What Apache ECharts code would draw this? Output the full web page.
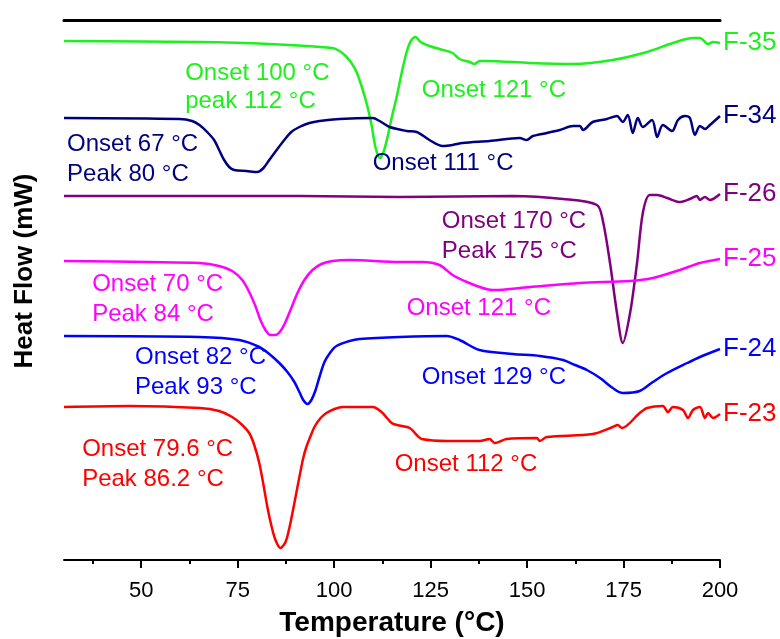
<!DOCTYPE html>
<html>
<head>
<meta charset="utf-8">
<title>DSC thermograms</title>
<script src="https://cdn.jsdelivr.net/npm/echarts@6/dist/echarts.min.js"></script>
<style>
  html, body { margin: 0; padding: 0; background: #ffffff; }
  #chart { width: 780px; height: 639px; }
</style>
</head>
<body>
<div id="chart"></div>
<script>
// Temperature axis ticks (°C)
const majorTicks = [50, 75, 100, 125, 150, 175, 200];
const minorTicks = [37.5, 62.5, 87.5, 112.5, 137.5, 162.5, 187.5];

// Heat flow traces, stacked with vertical offsets (arbitrary units): [T °C, heat flow]
const f35 = [
  [30, 51.9], [65.1, 51.8], [83.2, 51.6], [99.6, 51.2], [101.4, 50.9], [103.0, 50.4],
  [104.5, 49.7], [105.8, 48.8], [107.1, 47.4], [108.4, 45.7], [109.7, 43.5], [110.7, 41.3],
  [111.8, 40.2], [112.8, 40.8], [113.9, 42.4], [114.9, 44.2], [116.2, 46.3], [117.5, 48.7],
  [118.8, 50.8], [119.9, 51.9], [121.1, 52.3], [122.4, 51.8], [124.7, 51.4], [127.3, 51.1],
  [130.7, 50.7], [132.5, 50.1], [135.1, 49.8], [136.4, 49.6], [137.7, 49.9], [139.5, 49.9],
  [150.7, 49.7], [161.9, 49.6], [172.2, 50.0], [181.1, 50.8], [187.8, 51.7], [193.0, 52.2],
  [194.8, 52.2], [195.6, 52.0], [196.9, 51.6], [198.2, 51.8], [200, 51.7]
];
const f34 = [
  [30, 44.2], [59.9, 44.1], [63.2, 43.9], [65.1, 43.5], [67.1, 42.8], [68.9, 42.0],
  [70.2, 41.0], [71.5, 40.0], [72.8, 39.3], [74.1, 39.0], [77.3, 38.9], [80.1, 38.8],
  [81.7, 39.2], [83.2, 40.0], [85.3, 41.1], [87.1, 42.0], [88.9, 42.8], [91.0, 43.3],
  [93.6, 43.7], [96.2, 43.9], [101.4, 44.1], [110.0, 44.2], [111.8, 43.9], [114.4, 43.3],
  [118.8, 42.9], [121.4, 42.8], [124.7, 42.0], [128.1, 41.4], [130.7, 41.5], [133.3, 41.7],
  [140.3, 41.9], [148.1, 42.2], [149.9, 42.0], [151.5, 42.4], [155.1, 42.7], [158.5, 43.0],
  [161.9, 43.4], [163.7, 43.4], [164.5, 43.0], [167.0, 43.8], [170.7, 44.1], [173.3, 44.4],
  [174.8, 43.8], [176.1, 44.5], [177.4, 42.7], [178.7, 44.2], [180.0, 43.3], [182.4, 44.0],
  [183.7, 42.3], [185.2, 43.5], [187.6, 42.9], [189.1, 44.0], [190.9, 44.4], [192.2, 44.2],
  [193.5, 42.5], [194.8, 43.4], [196.1, 43.1], [197.4, 43.5], [200, 44.4]
];
const f26 = [
  [30, 36.4], [91.0, 36.4], [117.0, 36.3], [146.3, 36.4], [159.3, 36.1], [168.1, 35.5],
  [169.6, 34.0], [171.5, 29.7], [173.3, 24.7], [174.8, 21.7], [176.7, 24.7], [178.5, 29.7],
  [180.0, 34.7], [181.8, 36.5], [183.7, 36.5], [186.3, 36.2], [189.6, 35.8], [192.2, 36.1],
  [194.0, 36.4], [194.8, 36.0], [196.1, 36.3], [197.4, 36.0], [200, 36.6]
];
const f25 = [
  [30, 29.9], [52.1, 29.8], [65.1, 29.7], [70.2, 29.4], [73.6, 28.9], [76.2, 28.0],
  [78.0, 26.8], [79.6, 25.4], [80.9, 24.0], [82.2, 23.0], [83.5, 22.5], [84.8, 22.5],
  [86.1, 22.9], [87.4, 23.8], [88.9, 25.2], [90.5, 26.7], [92.3, 28.0], [94.4, 29.0],
  [96.7, 29.6], [99.6, 29.9], [104.0, 30.0], [117.0, 29.8], [122.9, 29.8], [127.3, 29.5],
  [130.7, 28.5], [134.4, 27.8], [138.5, 27.2], [141.1, 27.0], [150.7, 27.3], [163.7, 27.7],
  [176.7, 27.9], [182.6, 28.2], [189.6, 29.0], [194.8, 29.7], [200, 30.1]
];
const f24 = [
  [30, 22.4], [65.1, 22.3], [75.4, 22.0], [80.6, 21.3], [83.2, 20.6], [85.8, 19.7],
  [87.9, 18.8], [89.7, 17.8], [91.0, 16.8], [92.0, 16.0], [93.1, 15.6], [94.1, 16.0],
  [95.2, 17.0], [96.2, 18.3], [97.5, 19.8], [99.1, 20.8], [100.6, 21.4], [104.0, 21.9],
  [106.6, 22.1], [117.0, 22.3], [129.2, 22.4], [132.5, 22.0], [137.7, 21.0], [146.3, 20.6],
  [153.3, 20.4], [159.3, 20.0], [162.4, 19.5], [165.5, 19.0], [168.9, 18.2], [172.2, 17.2],
  [174.8, 16.7], [179.2, 16.9], [182.6, 17.8], [186.3, 18.7], [191.5, 19.7], [194.8, 20.3],
  [200, 21.1]
];
const f23 = [
  [30, 15.3], [46.9, 15.4], [65.1, 15.2], [70.2, 14.9], [73.6, 14.3], [76.2, 13.5],
  [78.0, 12.7], [79.3, 11.5], [80.6, 9.7], [81.7, 7.5], [82.7, 5.3], [83.7, 3.5],
  [84.8, 2.0], [86.1, 1.2], [87.4, 1.8], [88.4, 3.2], [89.2, 4.7], [90.2, 6.7],
  [91.0, 8.3], [92.0, 10.2], [92.8, 11.3], [93.9, 12.4], [94.9, 13.3], [96.5, 14.2],
  [98.0, 14.7], [100.1, 15.1], [102.2, 15.3], [110.0, 15.3], [112.3, 14.8], [114.9, 13.7],
  [116.4, 13.5], [119.6, 13.2], [121.4, 12.5], [122.7, 12.1], [129.2, 11.9], [137.7, 11.9],
  [140.3, 12.1], [141.6, 11.7], [144.7, 12.1], [152.5, 12.2], [153.3, 11.9], [155.1, 12.3],
  [167.0, 12.6], [172.2, 13.3], [173.5, 13.5], [174.6, 13.2], [179.2, 14.7], [181.1, 15.2],
  [185.2, 15.4], [186.5, 14.8], [187.8, 15.3], [190.4, 15.0], [191.7, 14.2], [193.0, 15.0],
  [194.8, 15.3], [196.1, 14.2], [196.9, 14.7], [198.2, 14.2], [200, 14.6]
];

const sampleNames = ['F-35', 'F-34', 'F-26', 'F-25', 'F-24', 'F-23'];
const sampleData = [f35, f34, f26, f25, f24, f23];
const sampleColors = ['#1EF01E', '#00007F', '#800080', '#FF00FF', '#0000FF', '#FF0000'];

// Transition annotations: [text, sample index, left-edge T, centre heat flow]
const notes = [
  ['Onset 100 \u00B0C', 0, 61.4, 48.7],
  ['peak 112 \u00B0C', 0, 61.4, 45.9],
  ['Onset 121 \u00B0C', 0, 122.7, 47.0],
  ['Onset 67 \u00B0C', 1, 30.8, 41.6],
  ['Peak 80 \u00B0C', 1, 30.8, 38.6],
  ['Onset 111 \u00B0C', 1, 110.0, 39.7],
  ['Onset 170 \u00B0C', 2, 127.9, 33.9],
  ['Peak 175 \u00B0C', 2, 127.9, 30.9],
  ['Onset 70 \u00B0C', 3, 37.3, 27.6],
  ['Peak 84 \u00B0C', 3, 37.3, 24.6],
  ['Onset 121 \u00B0C', 3, 118.8, 25.2],
  ['Onset 82 \u00B0C', 4, 48.4, 20.3],
  ['Peak 93 \u00B0C', 4, 48.4, 17.3],
  ['Onset 129 \u00B0C', 4, 122.7, 18.3],
  ['Onset 79.6 \u00B0C', 5, 34.7, 11.1],
  ['Peak 86.2 \u00B0C', 5, 34.7, 8.1],
  ['Onset 112 \u00B0C', 5, 115.7, 9.6]
];

const FONT = 'Arial, "Liberation Sans", sans-serif';
const chart = echarts.init(document.getElementById('chart'), null, { renderer: 'canvas' });

const lineSeries = sampleNames.map((name, i) => ({
  name: name,
  type: 'line',
  xAxisIndex: 0,
  yAxisIndex: 0,
  data: sampleData[i],
  showSymbol: false,
  smooth: 0.3,
  lineStyle: { color: sampleColors[i], width: 2.5 },
  itemStyle: { color: sampleColors[i] },
  endLabel: {
    show: true,
    formatter: '{a}',
    color: sampleColors[i],
    fontFamily: FONT,
    fontSize: 26,
    distance: 3
  },
  z: 2
}));

const yTitle = {
  id: 'yTitle',
  type: 'text',
  x: 25,
  y: 271,
  rotation: Math.PI / 2,
  style: {
    text: 'Heat Flow (mW)',
    font: 'bold 26px ' + FONT,
    fill: '#000',
    align: 'center',
    verticalAlign: 'middle'
  }
};

chart.setOption({
  animation: false,
  backgroundColor: '#ffffff',
  grid: { left: 64, right: 60, top: 20, bottom: 79, containLabel: false, outerBoundsMode: 'none' },
  xAxis: [
    {
      type: 'value',
      position: 'bottom',
      min: 30,
      max: 200,
      name: 'Temperature (\u00B0C)',
      nameLocation: 'middle',
      nameGap: 49,
      nameTextStyle: { fontFamily: FONT, fontWeight: 'bold', fontSize: 28, color: '#000' },
      axisLine: { show: true, onZero: false, lineStyle: { color: '#000', width: 2 } },
      axisTick: { show: true, inside: false, length: 8, customValues: majorTicks, lineStyle: { color: '#000', width: 2 } },
      axisLabel: { show: true, customValues: majorTicks, margin: 20, fontFamily: FONT, fontSize: 22, color: '#000' },
      splitLine: { show: false }
    },
    {
      type: 'value',
      position: 'bottom',
      min: 30,
      max: 200,
      axisLine: { show: false, onZero: false },
      axisTick: { show: true, inside: false, length: 4, customValues: minorTicks, lineStyle: { color: '#000', width: 2 } },
      axisLabel: { show: false },
      splitLine: { show: false }
    },
    {
      type: 'value',
      position: 'top',
      min: 30,
      max: 200,
      axisLine: { show: true, onZero: false, lineStyle: { color: '#000', width: 3 } },
      axisTick: { show: false },
      axisLabel: { show: false },
      splitLine: { show: false }
    }
  ],
  yAxis: {
    type: 'value',
    min: 0,
    max: 54,
    axisLine: { show: false },
    axisTick: { show: false },
    axisLabel: { show: false },
    splitLine: { show: false }
  },
  graphic: [yTitle],
  series: lineSeries
});

// Place the transition notes at their data-space anchors
const noteGraphics = notes.map((n, k) => {
  const p = chart.convertToPixel({ xAxisIndex: 0, yAxisIndex: 0 }, [n[2], n[3]]);
  return {
    id: 'note' + k,
    type: 'text',
    x: p[0],
    y: p[1],
    z: 10,
    style: {
      text: n[0],
      font: '24px ' + FONT,
      fill: sampleColors[n[1]],
      align: 'left',
      verticalAlign: 'middle'
    }
  };
});
chart.setOption({ graphic: [yTitle].concat(noteGraphics) });
</script>
</body>
</html>
